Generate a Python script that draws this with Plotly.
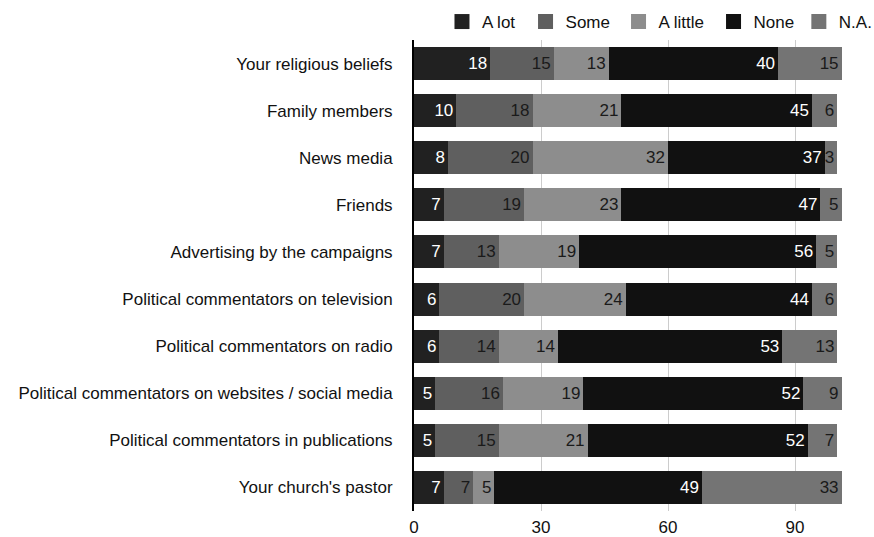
import plotly.graph_objects as go

categories = [
    "Your religious beliefs",
    "Family members",
    "News media",
    "Friends",
    "Advertising by the campaigns",
    "Political commentators on television",
    "Political commentators on radio",
    "Political commentators on websites / social media",
    "Political commentators in publications",
    "Your church's pastor",
]
series_names = ["A lot", "Some", "A little", "None", "N.A."]
a_lot =    [18, 10, 8, 7, 7, 6, 6, 5, 5, 7]
some =     [15, 18, 20, 19, 13, 20, 14, 16, 15, 7]
a_little = [13, 21, 32, 23, 19, 24, 14, 19, 21, 5]
none =     [40, 45, 37, 47, 56, 44, 53, 52, 52, 49]
na =       [15, 6, 3, 5, 5, 6, 13, 9, 7, 33]
tick_vals = [0, 30, 60, 90]

values = [a_lot, some, a_little, none, na]
colors = ["#212121", "#5f5f5f", "#8d8d8d", "#111111", "#747474"]
text_colors = ["#ffffff", "#1a1a1a", "#1a1a1a", "#ffffff", "#1a1a1a"]
legend_x = [0.5057, 0.6013, 0.7077, 0.8164, 0.9140]  # container fractions
FONT = "Liberation Sans, Arial, Helvetica, sans-serif"

fig = go.Figure()
for name, vals, c, tc in zip(series_names, values, colors, text_colors):
    fig.add_trace(go.Bar(
        y=categories, x=vals, name=name, orientation="h",
        marker=dict(color=c, line=dict(width=0)),
        text=[str(v) for v in vals], textposition="inside",
        insidetextanchor="end",
        textfont=dict(color=tc, size=17, family=FONT),
        hoverinfo="skip", showlegend=False,
    ))

legend_layout = {}
for i, (name, c, lx) in enumerate(zip(series_names, colors, legend_x)):
    lid = "legend" if i == 0 else f"legend{i + 1}"
    fig.add_trace(go.Scatter(
        x=[None], y=[None], mode="markers", name=name, legend=lid,
        marker=dict(symbol="square", size=15, color=c, line=dict(width=0)),
        hoverinfo="skip", showlegend=True,
    ))
    legend_layout[lid] = dict(orientation="h", xref="container", x=lx, xanchor="left",
                              y=1.0, yanchor="bottom", font=dict(size=17),
                              itemwidth=30, bgcolor="rgba(0,0,0,0)")

fig.update_layout(
    barmode="stack",
    bargap=0.3,
    width=874, height=537,
    margin=dict(l=414, r=0, t=40, b=26, autoexpand=False),
    plot_bgcolor="white", paper_bgcolor="white",
    font=dict(family=FONT, size=17, color="#111111"),
    uniformtext=dict(minsize=17, mode="show"),
    showlegend=True,
    **legend_layout,
)
fig.update_xaxes(range=[0, 108.66], tickvals=tick_vals, showgrid=True, gridcolor="#cccccc",
                 gridwidth=1, zeroline=False, showline=False, ticks="", ticklabelstandoff=4,
                 tickfont=dict(size=17))
fig.update_yaxes(autorange="reversed", showline=True, linecolor="#000000", linewidth=2,
                 ticks="", ticklabelstandoff=16, tickfont=dict(size=17))

fig.write_html("out.html")
